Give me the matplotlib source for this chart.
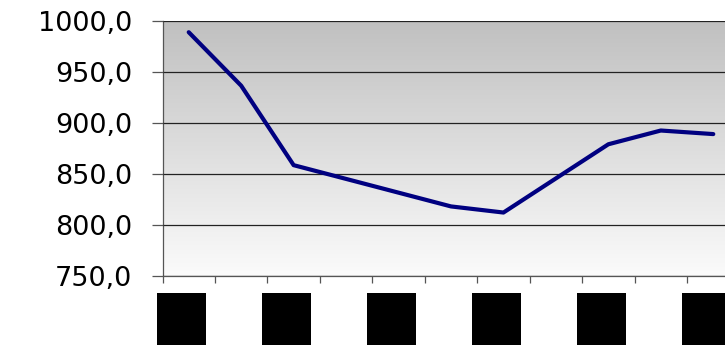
import matplotlib
matplotlib.use("Agg")
import matplotlib.pyplot as plt
import matplotlib.transforms as mtransforms
import numpy as np

categories = ["1996", "1997", "1998", "1999", "2000", "2001", "2002", "2003", "2004", "2005", "2006"]
values = [989.0, 936.5, 858.5, 845.0, 831.5, 818.0, 812.0, 845.5, 879.0, 892.5, 889.0]
y_ticks = [750, 800, 850, 900, 950, 1000]
y_tick_labels = ["750,0", "800,0", "850,0", "900,0", "950,0", "1000,0"]

fig = plt.figure(figsize=(7.25, 3.45), dpi=100)
ax = fig.add_axes([162.5 / 725, (345 - 275.7) / 345, (739.5 - 162.5) / 725, (275.7 - 21) / 345])

x = np.arange(len(categories))
ax.set_xlim(-0.5, len(categories) - 0.5)
ax.set_ylim(750, 1000)

# gradient background
grad = np.linspace(0, 1, 256).reshape(-1, 1)
top_c = np.array([192, 192, 192]) / 255
bot_c = np.array([251, 251, 251]) / 255
img = top_c[None, None, :] * (1 - grad[:, :, None]) + bot_c[None, None, :] * grad[:, :, None]
ax.imshow(img, extent=[0, 1, 0, 1], transform=ax.transAxes, aspect="auto", zorder=0)

ax.set_yticks(y_ticks)
ax.set_yticklabels(y_tick_labels, fontsize=19.5, family="DejaVu Sans")
ax.yaxis.grid(True, color="#222222", linewidth=0.9, zorder=1)
ax.set_axisbelow(False)
ax.tick_params(axis="y", length=8, width=0.9, color="#555555", pad=14)

ax.set_xticks([])
ax.set_xticks(np.arange(len(categories) + 1) - 0.5, minor=True)
ax.tick_params(axis="x", which="minor", length=5, width=0.9, color="#555555", labelbottom=False)

for s in ["top", "right"]:
    ax.spines[s].set_visible(False)
for s in ["left", "bottom"]:
    ax.spines[s].set_color("#555555")
    ax.spines[s].set_linewidth(0.9)

ax.plot(x, values, color="#000080", linewidth=3.0, solid_joinstyle="round", solid_capstyle="round", zorder=3)

# category labels (shown as black blocks)
offset = mtransforms.ScaledTranslation(-7 / 100, -35 / 100, fig.dpi_scale_trans)
trans = mtransforms.blended_transform_factory(ax.transData, ax.transAxes) + offset
for i in range(0, len(categories), 2):
    ax.text(i, 0, categories[i], rotation=90, ha="center", va="top", fontsize=10,
            color="black", transform=trans, clip_on=False,
            bbox=dict(boxstyle="square,pad=1.27", facecolor="black", edgecolor="none"))

fig.savefig("out.png", dpi=100)
